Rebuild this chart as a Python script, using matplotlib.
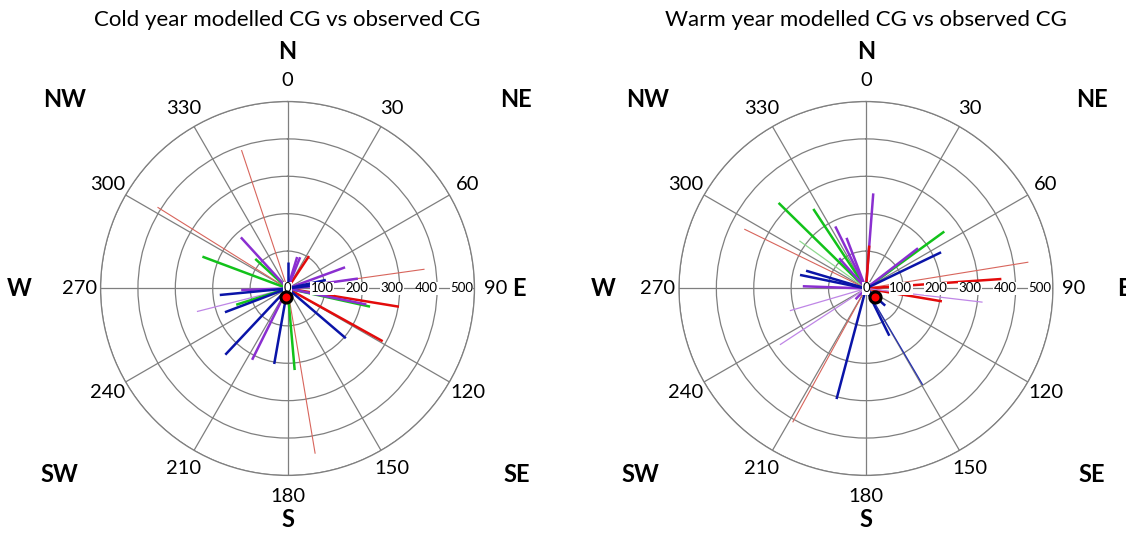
import numpy as np
import matplotlib
matplotlib.use('Agg')
import matplotlib.pyplot as plt

plt.rcParams['font.family'] = ['Lato', 'DejaVu Sans']

# bearings in degrees (clockwise from north), lengths in the same units as the rings
cold_series = ['red_thin', 'red_thin', 'red_thin', 'red_thin', 'purple_thin', 'purple',
               'red', 'red', 'red',
               'green', 'green', 'green', 'green', 'green',
               'purple', 'purple', 'purple', 'purple', 'purple', 'purple', 'purple', 'purple',
               'blue', 'blue', 'blue', 'blue', 'blue', 'blue', 'blue', 'blue']
cold_bearing = [341.6, 302, 170.5, 82, 255.7, 82,
                33.5, 99.3, 119,
                102.4, 175, 252.4, 290.5, 312.5,
                101.5, 206.4, 268, 317.6, 17, 22, 69.8, 85,
                130.5, 190, 223.2, 249.2, 264.5, 0, 77.5, 83]
cold_dist = [390, 410, 448, 370, 250, 190,
             104, 302, 291,
             226, 219, 144, 243, 117,
             215, 213, 124, 185, 88, 90, 164, 67,
             205, 205, 243, 179, 182, 70, 105, 60]

warm_series = ['green', 'green', 'green', 'green_thin',
               'red_thin', 'red_thin', 'red_thin',
               'purple', 'purple', 'purple', 'purple', 'purple', 'purple', 'purple',
               'red', 'red', 'red',
               'purple_thin', 'purple_thin', 'purple_thin',
               'blue', 'blue', 'blue', 'blue', 'blue', 'blue', 'blue_thin']
warm_bearing = [314.4, 326.5, 54, 305.6,
                296, 80.8, 208.7,
                333.7, 339, 318.5, 4.4, 272, 52.3, 224,
                4.4, 86, 99.6,
                96.7, 253.7, 236.8,
                286.5, 281.6, 64.3, 131.7, 153.7, 194.9, 149.5]
warm_dist = [327, 255, 259, 219,
             362, 440, 408,
             185, 145, 108, 255, 169, 176, 40,
             115, 363, 206,
             314, 212, 275,
             167, 180, 223, 69, 141, 306, 299]

# observed centre of gravity (bearing, distance)
cold_obs = (193, 24)
warm_obs = (133, 34)

titles = ['Cold year modelled CG vs observed CG', 'Warm year modelled CG vs observed CG']
angle_ticks = list(range(0, 360, 30))
ring_ticks = [0, 100, 200, 300, 400, 500]
compass = ['N', 'NE', 'E', 'SE', 'S', 'SW', 'W', 'NW']

styles = {
    'red': dict(color='#e30b0b', lw=1.8),
    'red_thin': dict(color='#d8655c', lw=0.8),
    'blue': dict(color='#0a14a8', lw=1.8),
    'blue_thin': dict(color='#2630b0', lw=0.9),
    'green': dict(color='#12c21a', lw=1.8),
    'green_thin': dict(color='#8fd88f', lw=0.9),
    'purple': dict(color='#8a2fd0', lw=1.8),
    'purple_thin': dict(color='#bf86e6', lw=0.9),
}

fig = plt.figure(figsize=(11.26, 5.34), dpi=100)
ax1 = fig.add_axes([0.0893, 0.1096, 0.3321, 0.7004], projection='polar')
ax2 = fig.add_axes([0.603, 0.1096, 0.3321, 0.7004], projection='polar')

# compass label spots in axes coords
spots_left = {'N': (0.5, 1.134), 'S': (0.5, -0.118), 'E': (1.12, 0.5), 'W': (-0.217, 0.5),
              'NE': (1.112, 1.005), 'NW': (-0.096, 1.005), 'SE': (1.112, 0.003), 'SW': (-0.11, 0.003)}
spots_right = dict(spots_left)
spots_right.update({'E': (1.19, 0.5), 'W': (-0.203, 0.5), 'NW': (-0.083, 1.005),
                    'SW': (-0.104, 0.003), 'NE': (1.104, 1.005), 'SE': (1.104, 0.003)})


def draw_panel(ax, series, bearing, dist, obs, title, spots):
    ax.set_theta_zero_location('N')
    ax.set_theta_direction(-1)
    for s, b, d in zip(series, bearing, dist):
        th = np.deg2rad(b)
        ax.plot([th, th], [0, d], solid_capstyle='butt', **styles[s])
    ax.plot(np.deg2rad(obs[0]), obs[1], 'o', ms=8, mfc='#ff0000', mec='black', mew=2.2, zorder=5)

    ax.set_ylim(0, 500)
    ax.set_rticks(ring_ticks)
    ax.set_yticklabels([])
    # ring labels along the east axis, sitting just inside each ring
    for v in ring_ticks:
        ax.text(np.deg2rad(90), v * 0.93, str(v), ha='center', va='center', fontsize=9.5,
                bbox=dict(facecolor='white', edgecolor='none', pad=0.3), zorder=4)
    # angle labels drawn by hand, centred just outside the outer ring
    ax.set_thetagrids(angle_ticks, [''] * len(angle_ticks))
    for a in angle_ticks:
        ax.text(np.deg2rad(a), 556, str(a), ha='center', va='center',
                fontsize=14.5, clip_on=False)
    ax.grid(True, color='#7f7f7f', lw=0.9)
    ax.spines['polar'].set_color('#7f7f7f')
    ax.spines['polar'].set_linewidth(0.9)

    for c in compass:
        x, y = spots[c]
        ax.text(x, y, c, transform=ax.transAxes, ha='center', va='center',
                fontsize=17, fontweight='bold', clip_on=False)
    ax.text(0.5, 1.218, title, transform=ax.transAxes, ha='center', va='center', fontsize=16)


draw_panel(ax1, cold_series, cold_bearing, cold_dist, cold_obs, titles[0], spots_left)
draw_panel(ax2, warm_series, warm_bearing, warm_dist, warm_obs, titles[1], spots_right)

fig.savefig('out.png', dpi=100)
